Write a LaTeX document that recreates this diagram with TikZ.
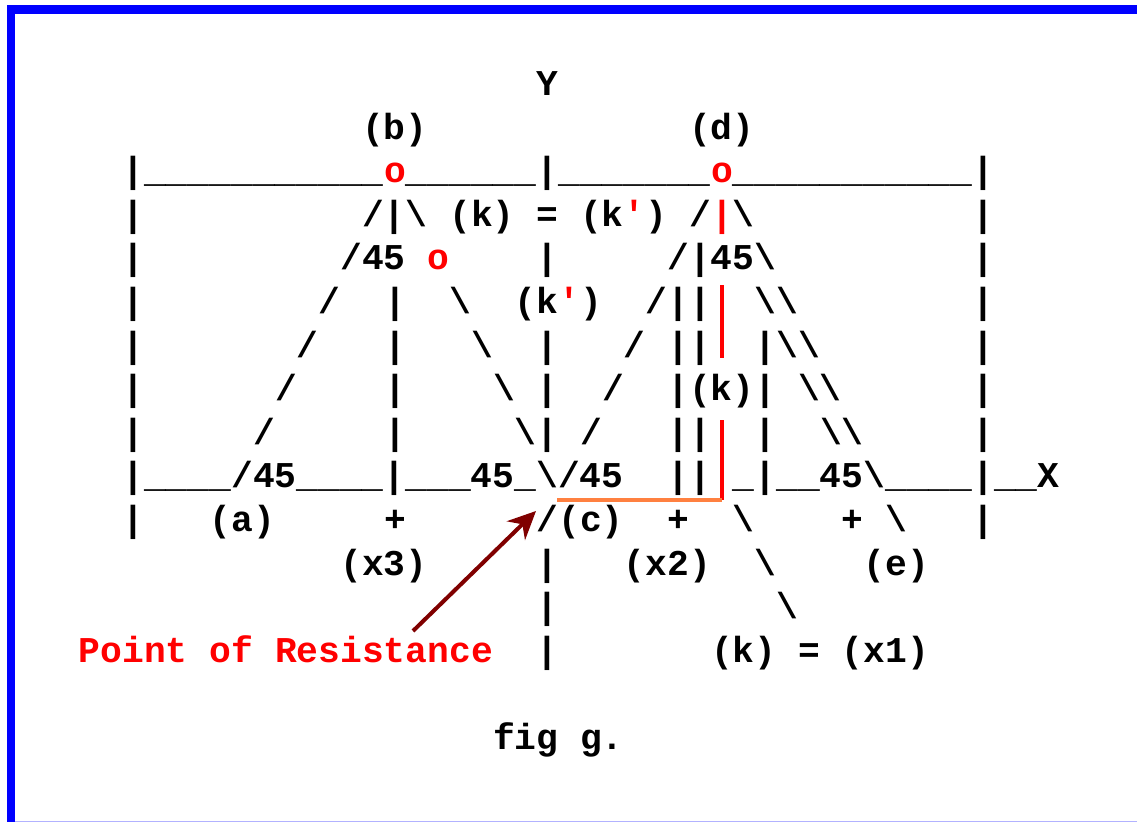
\documentclass[tikz,border=0pt]{standalone}
\usepackage{fontspec}
\newfontfamily\cour{Liberation Mono}
\usetikzlibrary{arrows.meta}
\definecolor{frameblue}{RGB}{0,0,255}
\definecolor{arrowred}{RGB}{128,0,0}
\definecolor{lineorange}{RGB}{255,128,64}
\definecolor{hlred}{RGB}{255,0,0}
\newcommand\sg[4]{\node[txt] (#1) at ({122.4+21.8*(#2)},{95.5+43.6*(#3)}) {#4};}
\newcommand\rs[4]{\node[txt,text=hlred] (#1) at ({122.4+21.8*(#2)},{95.5+43.6*(#3)}) {#4};}
\newcommand\bs{\textbackslash}
\tikzset{
  txt/.style={anchor=base west, inner sep=0pt, outer sep=0pt,
    font=\cour\bfseries\fontsize{36.3}{40}\selectfont},
  redbar/.style={draw=hlred, line width=4pt},
  orangebar/.style={draw=lineorange, line width=4pt},
  pointer/.style={draw=arrowred, line width=4pt,
    -{Stealth[length=28pt,width=26pt,inset=9pt]}}
}
\begin{document}
\begin{tikzpicture}[x=1pt,y=-1pt]
\useasboundingbox (0,0) rectangle (1137,822);
% frame
\fill[frameblue] (7,5) rectangle (15,822);
\fill[frameblue] (7,5) rectangle (1137,14);
\draw[frameblue!30, line width=1pt] (15,821.5) -- (1137,821.5);
% row 0
\sg{y0}{19}{0}{Y}
% row 1
\sg{lb}{11}{1}{(b)}
\sg{ld}{26}{1}{(d)}
% row 2
\sg{r2a}{0}{2}{|\_\_\_\_\_\_\_\_\_\_\_}
\rs{ob}{12}{2}{o}
\sg{r2b}{13}{2}{\_\_\_\_\_\_|\_\_\_\_\_\_\_}
\rs{od}{27}{2}{o}
\sg{r2c}{28}{2}{\_\_\_\_\_\_\_\_\_\_\_|}
% row 3
\sg{r3a}{0}{3}{|}
\sg{r3b}{11}{3}{/|\bs}
\sg{r3c}{15}{3}{(k)}
\sg{r3d}{19}{3}{=}
\sg{r3e}{21}{3}{(k}
\rs{r3f}{23}{3}{\textquotesingle}
\sg{r3g}{24}{3}{)}
\sg{r3h}{26}{3}{/}
\rs{r3i}{27}{3}{|}
\sg{r3j}{28}{3}{\bs}
\sg{r3k}{39}{3}{|}
% row 4
\sg{r4a}{0}{4}{|}
\sg{r4b}{10}{4}{/45}
\rs{r4c}{14}{4}{o}
\sg{r4d}{19}{4}{|}
\sg{r4e}{25}{4}{/|45\bs}
\sg{r4f}{39}{4}{|}
% row 5
\sg{r5a}{0}{5}{|}
\sg{r5b}{9}{5}{/}
\sg{r5c}{12}{5}{|}
\sg{r5d}{15}{5}{\bs}
\sg{r5e}{18}{5}{(k}
\rs{r5f}{20}{5}{\textquotesingle}
\sg{r5g}{21}{5}{)}
\sg{r5h}{24}{5}{/||}
\sg{r5i}{29}{5}{\bs\bs}
\sg{r5j}{39}{5}{|}
% row 6
\sg{r6a}{0}{6}{|}
\sg{r6b}{8}{6}{/}
\sg{r6c}{12}{6}{|}
\sg{r6d}{16}{6}{\bs}
\sg{r6e}{19}{6}{|}
\sg{r6f}{23}{6}{/}
\sg{r6g}{25}{6}{||}
\sg{r6h}{29}{6}{|\bs\bs}
\sg{r6i}{39}{6}{|}
% row 7
\sg{r7a}{0}{7}{|}
\sg{r7b}{7}{7}{/}
\sg{r7c}{12}{7}{|}
\sg{r7d}{17}{7}{\bs}
\sg{r7e}{19}{7}{|}
\sg{r7f}{22}{7}{/}
\sg{r7g}{25}{7}{|(k)|}
\sg{r7h}{31}{7}{\bs\bs}
\sg{r7i}{39}{7}{|}
% row 8
\sg{r8a}{0}{8}{|}
\sg{r8b}{6}{8}{/}
\sg{r8c}{12}{8}{|}
\sg{r8d}{18}{8}{\bs|}
\sg{r8e}{21}{8}{/}
\sg{r8f}{25}{8}{||}
\sg{r8g}{29}{8}{|}
\sg{r8h}{32}{8}{\bs\bs}
\sg{r8i}{39}{8}{|}
% row 9 (X axis)
\sg{r9a}{0}{9}{|\_\_\_\_/45\_\_\_\_|\_\_\_45\_\bs/45}
\sg{r9b}{25}{9}{||}
\sg{r9c}{28}{9}{\_|\_\_45\bs\_\_\_\_|\_\_X}
% row 10
\sg{r10a}{0}{10}{|}
\sg{la}{4}{10}{(a)}
\sg{r10b}{12}{10}{+}
\sg{lc}{19}{10}{/(c)}
\sg{r10c}{25}{10}{+}
\sg{r10d}{28}{10}{\bs}
\sg{r10e}{33}{10}{+}
\sg{r10f}{35}{10}{\bs}
\sg{r10g}{39}{10}{|}
% row 11
\sg{lx3}{10}{11}{(x3)}
\sg{r11a}{19}{11}{|}
\sg{lx2}{23}{11}{(x2)}
\sg{r11b}{29}{11}{\bs}
\sg{le}{34}{11}{(e)}
% row 12
\sg{r12a}{19}{12}{|}
\sg{r12b}{30}{12}{\bs}
% row 13
\rs{por1}{-2}{13}{Point}
\rs{por2}{4}{13}{of}
\rs{por3}{7}{13}{Resistance}
\sg{r13a}{19}{13}{|}
\sg{r13b}{27}{13}{(k)}
\sg{r13c}{31}{13}{=}
\sg{r13d}{33}{13}{(x1)}
% caption
\sg{cap1}{17}{15}{fig}
\sg{cap2}{21}{15}{g.}
% coloured lines
\coordinate (ka) at (722,285);
\coordinate (kb) at (722,358);
\coordinate (kc) at (722,420);
\coordinate (kd) at (722,500);
\coordinate (ce) at (557,500);
\draw[redbar] (ka) -- (kb);
\draw[redbar] (kc) -- (kd);
\draw[orangebar] (ce) -- (kd);
% pointer arrow
\coordinate (tail) at (413,631);
\coordinate (tip) at (536,511);
\draw[pointer] (tail) -- (tip);
\end{tikzpicture}
\end{document}
